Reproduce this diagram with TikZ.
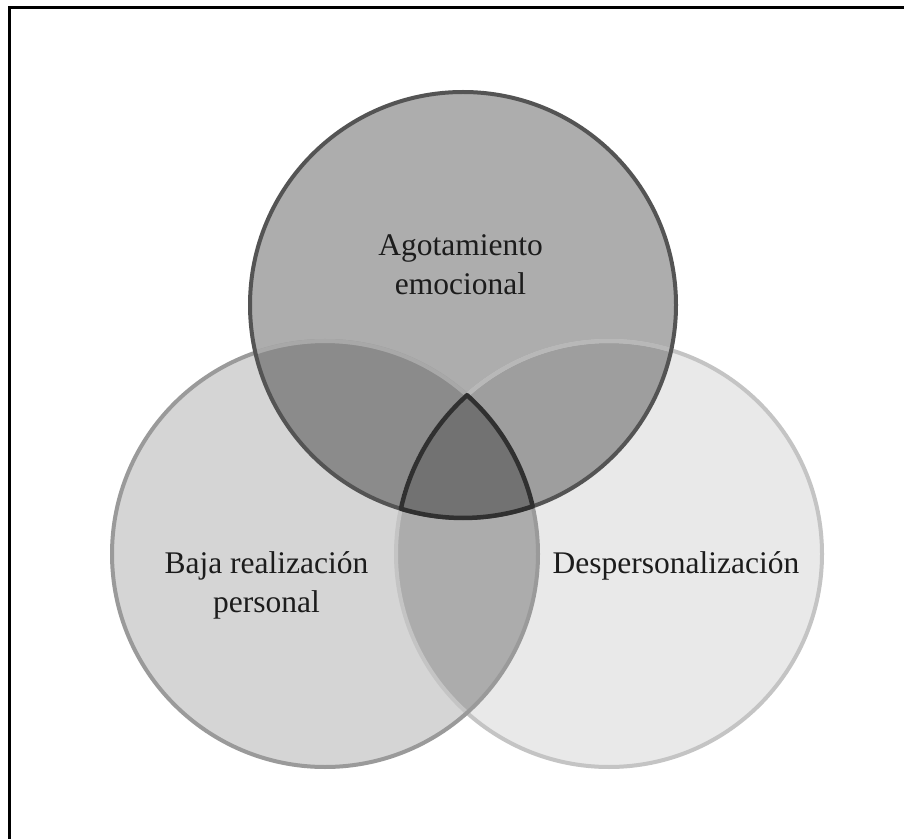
\documentclass[tikz,border=0pt]{standalone}
\usepackage{fontspec}
\setmainfont{Liberation Serif}
\definecolor{fillL}{HTML}{D5D5D5}
\definecolor{fillR}{HTML}{E9E9E9}
\definecolor{fillT}{HTML}{ADADAD}
\definecolor{fillLR}{HTML}{ACACAC}
\definecolor{fillTL}{HTML}{8B8B8B}
\definecolor{fillTR}{HTML}{9E9E9E}
\definecolor{fillTLR}{HTML}{727272}
\definecolor{rimL}{HTML}{9A9A9A}
\definecolor{rimR}{HTML}{C4C4C4}
\definecolor{rimLin}{HTML}{A8A8A8}
\definecolor{rimRin}{HTML}{B8B8B8}
\definecolor{rimT}{HTML}{545454}
\definecolor{rimTLR}{HTML}{303030}
\definecolor{txt}{HTML}{1C1C1C}
\begin{document}
\begin{tikzpicture}[x=1pt,y=1pt,
  rim/.style={line width=4pt},
  label/.style={text=txt,align=center,anchor=base,inner sep=0pt,
    font=\fontsize{31.5}{39}\selectfont}]
\useasboundingbox (0,0) rectangle (904,839);
\fill[white] (0,0) rectangle (904,839);
% frame (only the top and left edges are inside the page)
\draw[line width=3pt] (9,0) -- (9,831.3) -- (904,831.3);

% circle centres, radius 213
\coordinate (cT) at (463,534);
\coordinate (cL) at (325,285);
\coordinate (cR) at (609,285);
\def\rad{213}
% top corner of the region common to all three circles
\coordinate (pA) at (467,443.76);

% plain fills
\fill[fillL] (cL) circle (\rad);
\fill[fillR] (cR) circle (\rad);
\begin{scope}
  \clip (cL) circle (\rad);
  \fill[fillLR] (cR) circle (\rad);
\end{scope}
\fill[fillT] (cT) circle (\rad);
\begin{scope}
  \clip (cT) circle (\rad);
  \fill[fillTL] (cL) circle (\rad);
  \fill[fillTR] (cR) circle (\rad);
\end{scope}

% rims of the lower circles
\draw[rim,rimR] (cR) circle (\rad);
\draw[rim,rimL] (cL) circle (\rad);
\begin{scope}
  \clip (cT) circle (\rad);
  \draw[rim,rimRin] (cR) circle (\rad);
  \draw[rim,rimLin] (cL) circle (\rad);
\end{scope}

% upper circle rim
\draw[rim,rimT] (cT) circle (\rad);

% region shared by all three circles
\filldraw[fill=fillTLR,draw=rimTLR,line width=4.5pt,line join=round]
  (pA) arc[start angle=131.82,end angle=167.73,radius=\rad]
       arc[start angle=253.04,end angle=289.08,radius=\rad]
       arc[start angle=12.94,end angle=48.18,radius=\rad] -- cycle;

% labels
\node[label] (agot) at (460.5,544) {Agotamiento\\emocional};
\node[label] (baja) at (266.5,227) {Baja realización\\personal};
\node[label] (desp) at (676,266) {Despersonalización};
\end{tikzpicture}
\end{document}
